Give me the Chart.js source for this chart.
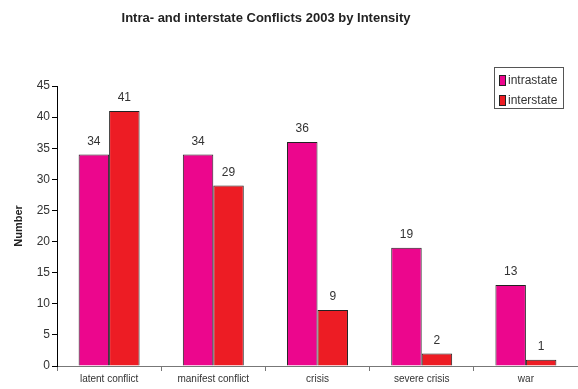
<!DOCTYPE html>
<html>
<head>
<meta charset="utf-8">
<style>
  html, body { margin: 0; padding: 0; background: #fff; }
  #wrap { width: 578px; height: 389px; position: relative; }
</style>
<script src="https://cdn.jsdelivr.net/npm/chart.js@4/dist/chart.umd.min.js"></script>
</head>
<body>
<div id="wrap"><canvas id="c" width="578" height="389"></canvas></div>
<script>
const categories = ['latent conflict', 'manifest conflict', 'crisis', 'severe crisis', 'war'];
const intrastate = [34, 34, 36, 19, 13];
const interstate = [41, 29, 9, 2, 1];
const yTicks = [0, 5, 10, 15, 20, 25, 30, 35, 40, 45];

const FONT = "'Liberation Sans', Arial, sans-serif";
const MAGENTA = '#EC068D';
const RED = '#ED1C24';
const TEXT = '#333333';

// Title, value labels and the boxed legend
const decor = {
  id: 'decor',
  afterDatasetsDraw(chart) {
    const ctx = chart.ctx;
    ctx.save();
    // title
    ctx.fillStyle = '#222';
    ctx.font = "bold 13px " + FONT;
    ctx.textAlign = 'center';
    ctx.textBaseline = 'middle';
    ctx.fillText('Intra- and interstate Conflicts 2003 by Intensity', 266, 18);

    // value labels above bars
    ctx.font = "12px " + FONT;
    ctx.fillStyle = TEXT;
    chart.data.datasets.forEach((ds, i) => {
      chart.getDatasetMeta(i).data.forEach((bar, j) => {
        ctx.fillText(String(ds.data[j]), bar.x, bar.y - 13);
      });
    });

    // legend
    const lx = 494, ly = 67, lw = 69, lh = 41;
    ctx.fillStyle = '#fff';
    ctx.fillRect(lx, ly, lw, lh);
    ctx.strokeStyle = '#555';
    ctx.lineWidth = 1;
    ctx.strokeRect(lx + 0.5, ly + 0.5, lw, lh);
    const items = [['intrastate', MAGENTA, 80], ['interstate', RED, 100]];
    ctx.textAlign = 'left';
    ctx.font = "12px " + FONT;
    items.forEach(([label, color, y]) => {
      ctx.fillStyle = color;
      ctx.fillRect(499, y - 5, 6, 10);
      ctx.strokeStyle = '#222';
      ctx.strokeRect(499.5, y - 4.5, 6, 10);
      ctx.fillStyle = TEXT;
      ctx.fillText(label, 508, y + 1);
    });
    ctx.restore();
  }
};

new Chart(document.getElementById('c'), {
  type: 'bar',
  data: {
    labels: categories,
    datasets: [
      { label: 'intrastate', data: intrastate, backgroundColor: MAGENTA, borderColor: '#222', borderWidth: 1, borderSkipped: 'bottom' },
      { label: 'interstate', data: interstate, backgroundColor: RED, borderColor: '#222', borderWidth: 1, borderSkipped: 'bottom' }
    ]
  },
  options: {
    responsive: false,
    animation: false,
    events: [],
    layout: { padding: { top: 86, left: 0, right: 0, bottom: 0 } },
    datasets: { bar: { categoryPercentage: 0.585, barPercentage: 1.0 } },
    plugins: { legend: { display: false }, title: { display: false }, tooltip: { enabled: false } },
    scales: {
      x: {
        grid: { display: true, drawOnChartArea: false, drawTicks: true, tickLength: 5, color: '#777', offset: true },
        border: { display: true, color: '#777' },
        ticks: { color: TEXT, font: { family: FONT, size: 10 }, padding: 2, maxRotation: 0, autoSkip: false },
        afterFit(s) { s.height = 389 - 366; }
      },
      y: {
        min: 0, max: 45,
        afterBuildTicks(s) { s.ticks = yTicks.map(v => ({ value: v })); },
        grid: { display: true, drawOnChartArea: false, drawTicks: true, tickLength: 5, color: '#000' },
        border: { display: true, color: '#000' },
        ticks: { color: TEXT, font: { family: FONT, size: 12 }, padding: 2 },
        title: { display: true, text: 'Number', color: '#222', font: { family: FONT, size: 11, weight: 'bold' }, padding: { top: 12, bottom: 0 } },
        afterFit(s) { s.width = 57; }
      }
    }
  },
  plugins: [decor]
});
</script>
</body>
</html>
